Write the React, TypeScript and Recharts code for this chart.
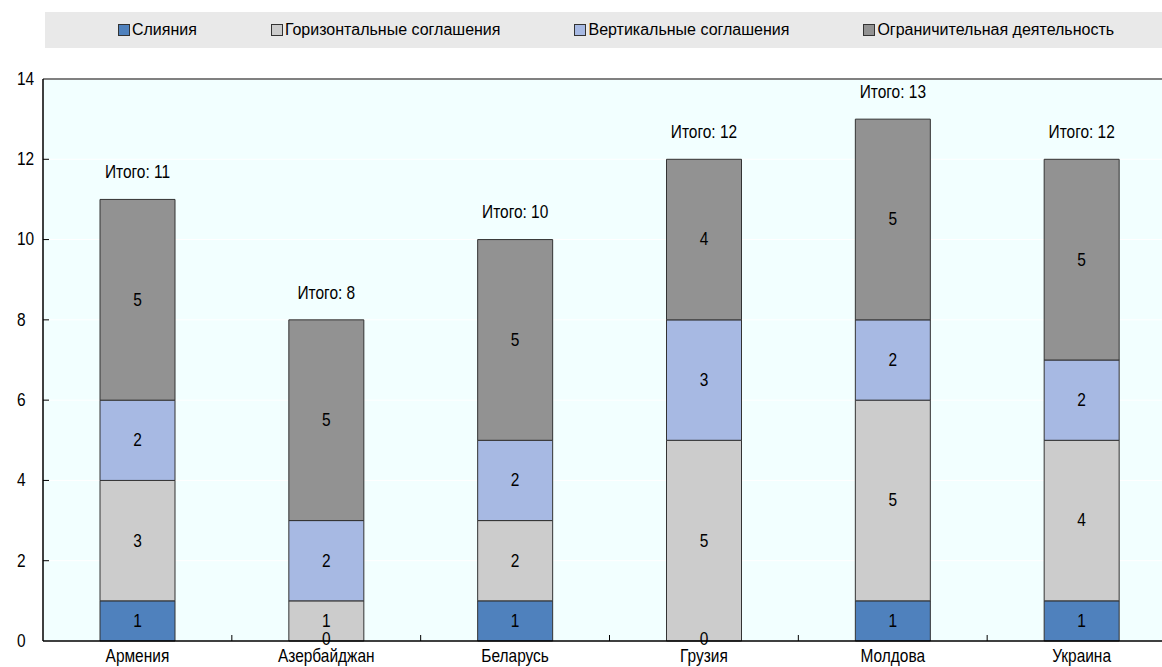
import React from "react";
import {
  BarChart,
  Bar,
  XAxis,
  YAxis,
  CartesianGrid,
  LabelList,
  ReferenceLine,
} from "recharts";

const categories = ["Армения", "Азербайджан", "Беларусь", "Грузия", "Молдова", "Украина"];
const mergers = [1, 0, 1, 0, 1, 1];
const horizontal = [3, 1, 2, 5, 5, 4];
const vertical = [2, 2, 2, 3, 2, 2];
const restrictive = [5, 5, 5, 4, 5, 5];
const yTicks = [0, 2, 4, 6, 8, 10, 12, 14];

const font = "'Liberation Sans', Arial, sans-serif";

const series = [
  { key: "mergers", name: "Слияния", color: "#4f81bd" },
  { key: "horizontal", name: "Горизонтальные соглашения", color: "#cccccc" },
  { key: "vertical", name: "Вертикальные соглашения", color: "#a7b9e3" },
  { key: "restrictive", name: "Ограничительная деятельность", color: "#929292" },
];

const data = categories.map((c, i) => ({
  name: c,
  mergers: mergers[i],
  horizontal: horizontal[i],
  vertical: vertical[i],
  restrictive: restrictive[i],
  total: mergers[i] + horizontal[i] + vertical[i] + restrictive[i],
}));

// condensed text, to look like Arial Narrow
function NText({ x, y, anchor = "middle", children }: any) {
  return (
    <text
      transform={`translate(${x},${y}) scale(0.86,1)`}
      textAnchor={anchor}
      dominantBaseline="central"
      fontFamily={font}
      fontSize={18}
      fill="#000"
    >
      {children}
    </text>
  );
}

function LegendBox() {
  return (
    <div
      style={{
        background: "#e9e9e9",
        height: 36,
        display: "flex",
        alignItems: "center",
        justifyContent: "center",
        gap: 74,
        fontFamily: font,
        fontSize: 16,
        color: "#000",
      }}
    >
      {series.map((s) => (
        <div key={s.key} style={{ display: "flex", alignItems: "center" }}>
          <span
            style={{
              display: "inline-block",
              width: 10,
              height: 10,
              background: s.color,
              border: "1px solid #333",
              marginRight: 2,
            }}
          />
          {s.name}
        </div>
      ))}
    </div>
  );
}

function YTick(props: any) {
  const { x, y, payload } = props;
  return (
    <g>
      <NText x={x - 26} y={y} anchor="start">{payload.value}</NText>
      {payload.value !== 0 && payload.value !== 14 && (
        <line x1={x} x2={x + 6} y1={y} y2={y} stroke="#000" strokeWidth={1} />
      )}
    </g>
  );
}

function XTick(props: any) {
  const { x, y, payload } = props;
  const half = payload.offset || 94.3;
  return (
    <g>
      <NText x={x} y={y + 15}>{payload.value}</NText>
      <line x1={x + half} x2={x + half} y1={y - 6} y2={y} stroke="#000" strokeWidth={1} />
    </g>
  );
}

function ValueLabel(props: any) {
  const { x, y, width, height, value } = props;
  if (!value) return null;
  return <NText x={x + width / 2} y={y + height / 2}>{value}</NText>;
}

// the zero mergers value is shown at the bottom of the stack
function HorizontalLabel(props: any) {
  const { x, y, width, height, value, index } = props;
  return (
    <g>
      {value ? <NText x={x + width / 2} y={y + height / 2}>{value}</NText> : null}
      {mergers[index] === 0 && <NText x={x + width / 2} y={y + height - 2}>{mergers[index]}</NText>}
    </g>
  );
}

function TotalLabel(props: any) {
  const { x, y, width, index } = props;
  return <NText x={x + width / 2} y={y - 27}>{`Итого: ${data[index].total}`}</NText>;
}

export default function App() {
  return (
    <div style={{ position: "fixed", left: 0, top: 0, width: 1162, height: 667, overflow: "hidden", background: "#fff" }}>
      <div style={{ position: "absolute", left: 45, top: 12, width: 1142 }}>
        <LegendBox />
      </div>
      <BarChart
        width={1176}
        height={667}
        data={data}
        margin={{ top: 79, right: 0, bottom: 0, left: 0 }}
        barSize={75}
      >
        <CartesianGrid horizontal={true} vertical={false} stroke="#ffffff" fill="#f2ffff" />
        <XAxis
          dataKey="name"
          height={26}
          tick={<XTick />}
          tickLine={false}
          tickSize={0}
          tickMargin={0}
          axisLine={{ stroke: "#000", strokeWidth: 1.5 }}
          interval={0}
        />
        <YAxis
          width={43}
          domain={[0, 14]}
          ticks={yTicks}
          tick={<YTick />}
          tickLine={false}
          tickSize={0}
          tickMargin={0}
          axisLine={{ stroke: "#000", strokeWidth: 1.5 }}
          interval={0}
        />
        <ReferenceLine y={14} stroke="#808080" strokeWidth={2} />
        {series.map((s) => (
          <Bar
            key={s.key}
            dataKey={s.key}
            name={s.name}
            stackId="a"
            fill={s.color}
            stroke="#333"
            strokeWidth={1}
            isAnimationActive={false}
          >
            <LabelList
              dataKey={s.key}
              content={s.key === "horizontal" ? <HorizontalLabel /> : <ValueLabel />}
            />
            {s.key === "restrictive" && <LabelList dataKey="total" content={<TotalLabel />} />}
          </Bar>
        ))}
      </BarChart>
    </div>
  );
}
